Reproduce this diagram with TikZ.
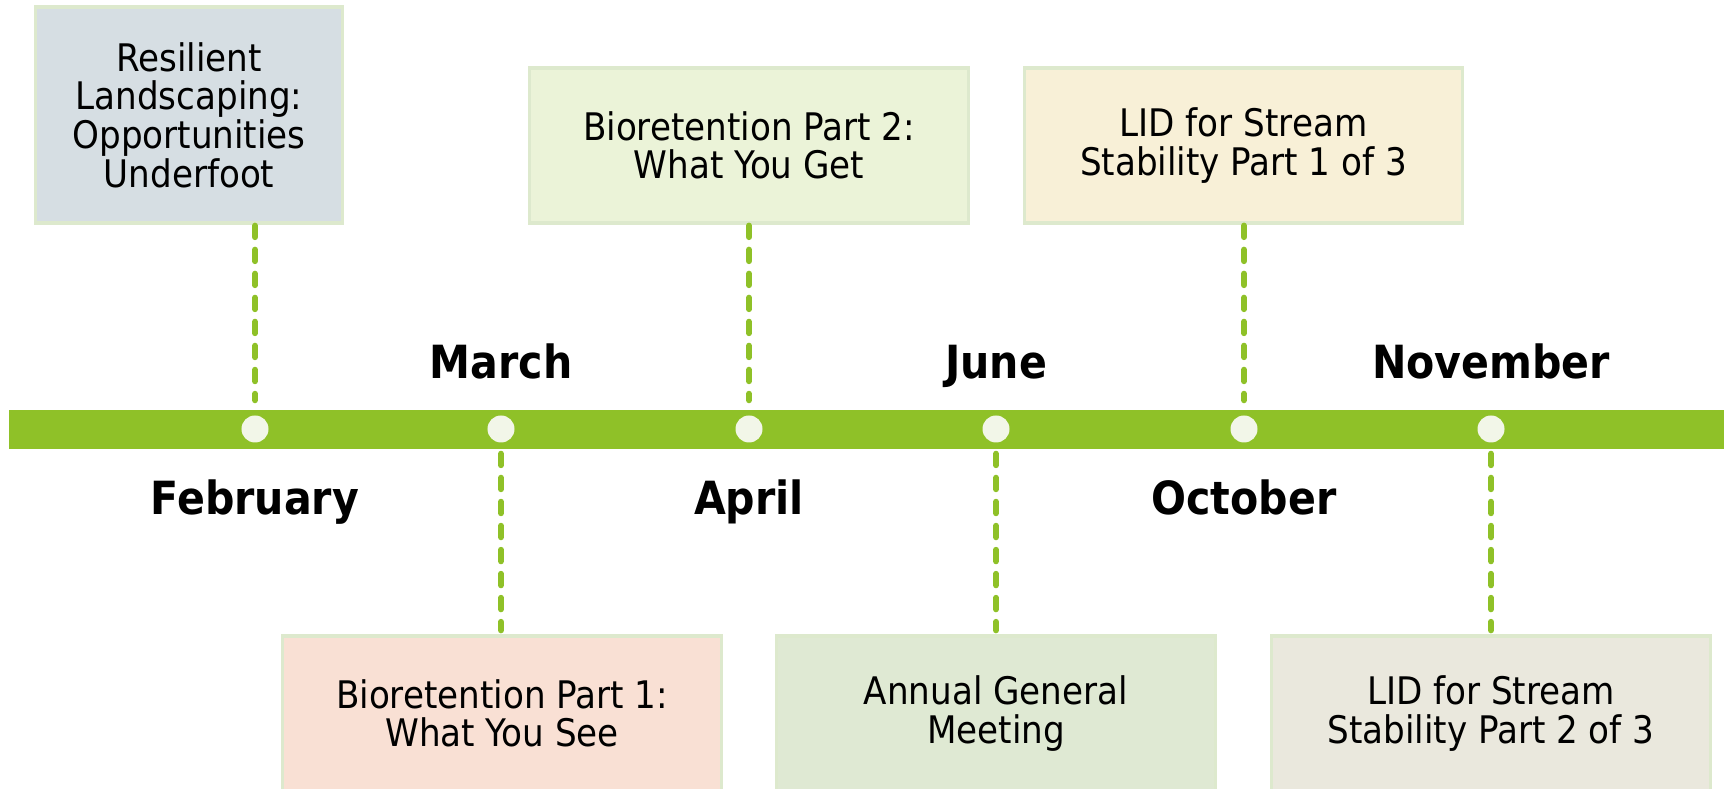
\documentclass[tikz,border=0pt]{standalone}
\usepackage{fontspec}
\setmainfont{DejaVu Sans Condensed}
\usetikzlibrary{positioning}

\definecolor{barGreen}{RGB}{143,193,40}
\definecolor{dotWhite}{RGB}{242,246,232}
\definecolor{boxLine}{RGB}{221,233,205}
\definecolor{fillGrey}{RGB}{214,222,227}
\definecolor{fillLime}{RGB}{235,243,216}
\definecolor{fillCream}{RGB}{248,240,215}
\definecolor{fillPeach}{RGB}{249,224,212}
\definecolor{fillSage}{RGB}{223,233,211}
\definecolor{fillStone}{RGB}{234,232,221}

\begin{document}
\begin{tikzpicture}[x=0.01cm, y=-0.01cm,
  topic/.style={draw=boxLine, line width=0.9pt, minimum width=4.38cm, minimum height=1.55cm,
    inner sep=0pt, align=center, font=\fontsize{10.8}{11}\selectfont},
  month/.style={anchor=base, font=\bfseries\fontsize{13}{13}\selectfont},
  eventdot/.style={circle, fill=dotWhite, minimum size=0.27cm, inner sep=0pt},
  link/.style={draw=barGreen, line width=1.7pt, line cap=round, dash pattern=on 3.27pt off 3.56pt}]
\useasboundingbox (0,0) rectangle (1724,789);

% Timeline
\fill[barGreen] (9,410) rectangle (1724,449);
\foreach \n/\x in {1/255,2/501,3/749,4/996,5/1244,6/1491}
    \node[eventdot] (d\n) at (\x,429) {};

% Months
\node[month] (m1) at (255,515) {February};
\node[month] (m2) at (501,379) {March};
\node[month] (m3) at (749,515) {April};
\node[month] (m4) at (996,379) {June};
\node[month] (m5) at (1244,515) {October};
\node[month] (m6) at (1491,379) {November};

% Events
\node[topic, fill=fillGrey, minimum width=3.06cm, minimum height=2.16cm] (b1) at (189,115)
    {Resilient\\Landscaping:\\Opportunities\\Underfoot};
\node[topic, fill=fillPeach] (b2) at (502,713.5) {Bioretention Part 1:\\What You See};
\node[topic, fill=fillLime] (b3) at (749,145.5) {Bioretention Part 2:\\What You Get};
\node[topic, fill=fillSage] (b4) at (996,713.5) {Annual General\\Meeting};
\node[topic, fill=fillCream] (b5) at (1243.5,145.5) {LID for Stream\\Stability Part 1 of 3};
\node[topic, fill=fillStone] (b6) at (1491,713.5) {LID for Stream\\Stability Part 2 of 3};

% Links
\foreach \n in {1,3,5}
    \draw[link, shorten <=0.01cm, shorten >=0.145cm] (d\n |- b\n.south) -- (d\n.north);
\foreach \n in {2,4,6}
    \draw[link, shorten <=0.105cm, shorten >=0.04cm] (d\n.south) -- (d\n |- b\n.north);

\end{tikzpicture}
\end{document}
